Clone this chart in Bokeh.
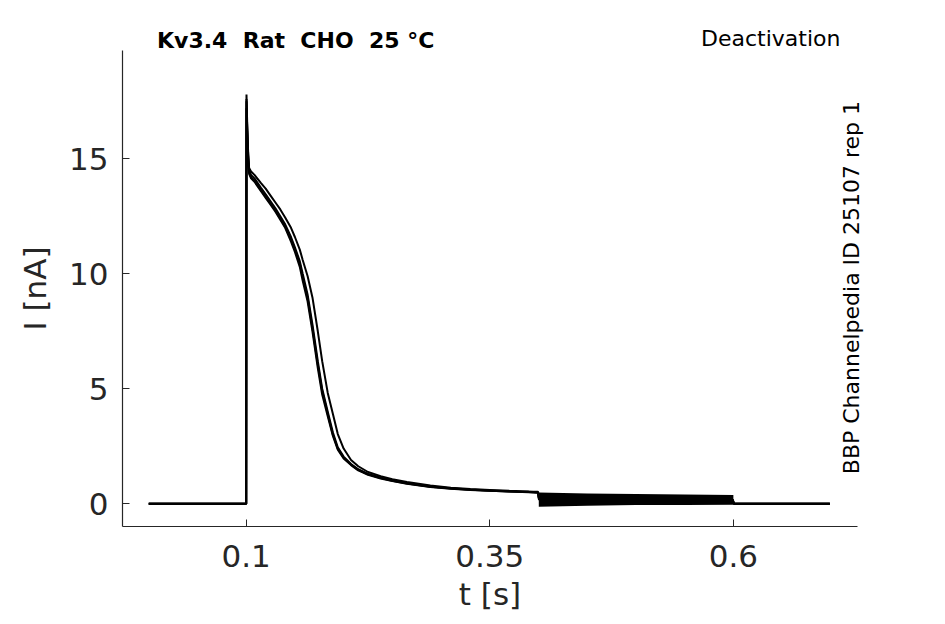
import math
from bokeh.plotting import figure
from bokeh.models import Range1d, FixedTicker, Label
from bokeh.embed import file_html
from bokeh.resources import INLINE

# ---- data ----
t = [0.0, 0.05, 0.0998, 0.1, 0.1003, 0.101, 0.102, 0.103, 0.105, 0.1085, 0.115,
     0.12, 0.125, 0.13, 0.135, 0.14, 0.146, 0.15, 0.155, 0.158, 0.163, 0.168,
     0.1735, 0.178, 0.1837, 0.189, 0.194, 0.2, 0.2076, 0.215, 0.225, 0.238,
     0.25, 0.265, 0.289, 0.31, 0.33, 0.35, 0.37, 0.39, 0.3995, 0.4005, 0.5,
     0.5995, 0.6005, 0.65, 0.699]

trace_a = [0, 0, 0, 0, 17.8, 16.6, 15.2, 14.5, 14.3, 14.15, 13.75,
           13.45, 13.15, 12.85, 12.5, 12.15, 11.6, 11.15, 10.55, 10.0, 9.1, 7.8,
           6.2, 5.0, 4.0, 3.1, 2.45, 2.05, 1.73, 1.5, 1.3, 1.14,
           1.02, 0.9, 0.75, 0.67, 0.62, 0.58, 0.54, 0.52, 0.5, 0.2, 0.18,
           0.15, 0, 0, 0]
trace_b = [0, 0, 0, 0, 17.5, 16.3, 15.0, 14.4, 14.2, 14.05, 13.65,
           13.35, 13.05, 12.75, 12.4, 12.05, 11.5, 11.05, 10.45, 9.85, 8.95, 7.65,
           6.05, 4.9, 3.9, 3.0, 2.4, 2.0, 1.7, 1.47, 1.28, 1.12,
           1.0, 0.88, 0.74, 0.66, 0.61, 0.57, 0.53, 0.51, 0.49, 0.18, 0.16,
           0.14, 0, 0, 0]
trace_c = [0, 0, 0, 0, 17.2, 16.0, 14.9, 14.35, 14.15, 14.0, 13.6,
           13.3, 13.0, 12.7, 12.35, 12.0, 11.4, 10.95, 10.3, 9.7, 8.8, 7.5,
           5.9, 4.75, 3.8, 2.95, 2.35, 1.97, 1.68, 1.45, 1.26, 1.1,
           0.99, 0.87, 0.73, 0.65, 0.6, 0.56, 0.53, 0.5, 0.48, 0.22, 0.2,
           0.16, 0, 0, 0]
trace_d = [0, 0, 0, 0, 17.6, 16.4, 15.3, 14.6, 14.45, 14.3, 13.95,
           13.7, 13.4, 13.1, 12.8, 12.45, 12.0, 11.6, 11.05, 10.6, 9.9, 8.97,
           7.5, 6.2, 4.82, 3.9, 3.03, 2.4, 1.9, 1.63, 1.38, 1.2,
           1.07, 0.95, 0.79, 0.7, 0.64, 0.6, 0.56, 0.53, 0.52, 0.24, 0.21,
           0.17, 0, 0, 0]
traces = [trace_a, trace_b, trace_c, trace_d]

# noisy tail envelope during the 0.4 - 0.6 s step
band_t = [0.4003, 0.45, 0.5, 0.55, 0.6]
band_upper = [0.49, 0.45, 0.42, 0.40, 0.38]
band_lower = [-0.13, -0.09, -0.06, -0.05, -0.04]

x_ticks = [0.1, 0.35, 0.6]
x_tick_labels = ["0.1", "0.35", "0.6"]
y_ticks = [0, 5, 10, 15]
y_tick_labels = ["0", "5", "10", "15"]

title_text = "Kv3.4\u00a0 Rat\u00a0 CHO\u00a0 25 °C"
protocol_text = "Deactivation"
source_text = "BBP Channelpedia ID 25107 rep 1"

# ---- figure ----
FONT = "DejaVu Sans"
GREY = "#262626"
W, H = 945, 624
LEFT, RIGHT, TOP, BOTTOM = 122, 857, 50, 526   # frame edges in px

p = figure(width=W, height=H, output_backend="svg", toolbar_location=None,
           x_range=Range1d(-0.02695, 0.7274), y_range=Range1d(-0.99, 19.71),
           min_border_left=LEFT, min_border_right=W - RIGHT,
           min_border_top=TOP, min_border_bottom=H - BOTTOM)
p.outline_line_color = None
p.grid.visible = False
p.background_fill_color = "white"
p.border_fill_color = "white"

for tr in traces:
    p.line(t, tr, line_color="black", line_width=2)

p.varea(x=band_t, y1=band_lower, y2=band_upper, fill_color="black")

for ax in (p.xaxis[0], p.yaxis[0]):
    ax.axis_line_color = GREY
    ax.axis_line_width = 1.2
    ax.major_tick_line_color = GREY
    ax.major_tick_in = 7
    ax.major_tick_out = 0
    ax.minor_tick_line_color = None
    ax.major_label_text_font = FONT
    ax.major_label_text_font_size = "31px"
    ax.major_label_text_color = GREY
    ax.axis_label_text_font = FONT
    ax.axis_label_text_font_size = "31px"
    ax.axis_label_text_color = GREY
    ax.axis_label_text_font_style = "normal"

p.xaxis.ticker = FixedTicker(ticks=x_ticks)
p.xaxis.major_label_overrides = dict(zip(x_ticks, x_tick_labels))
p.yaxis.ticker = FixedTicker(ticks=y_ticks)
p.yaxis.major_label_overrides = dict(zip(y_ticks, y_tick_labels))
p.xaxis.axis_label = "t [s]"
p.yaxis.axis_label = "I [nA]"
p.xaxis.major_label_standoff = 18
p.xaxis.axis_label_standoff = 6
p.yaxis.major_label_standoff = 14
p.yaxis.axis_label_standoff = 13

# texts outside the frame live in the side panels (data units), so they are not clipped
p.add_layout(Label(x=0.0085, y=20.14, text=title_text, text_font=FONT,
                   text_font_size="22px", text_font_style="bold",
                   text_color="black", text_align="left", text_baseline="middle"),
             "above")
p.add_layout(Label(x=0.7099, y=20.22, text=protocol_text, text_font=FONT,
                   text_font_size="22px", text_color="black",
                   text_align="right", text_baseline="middle"),
             "above")
p.add_layout(Label(x=0.7212, y=9.4, text=source_text, text_font=FONT,
                   text_font_size="22px", text_color="black", angle=math.pi / 2,
                   text_align="center", text_baseline="middle"),
             "right")

open("out.html", "w").write(file_html(p, INLINE))
